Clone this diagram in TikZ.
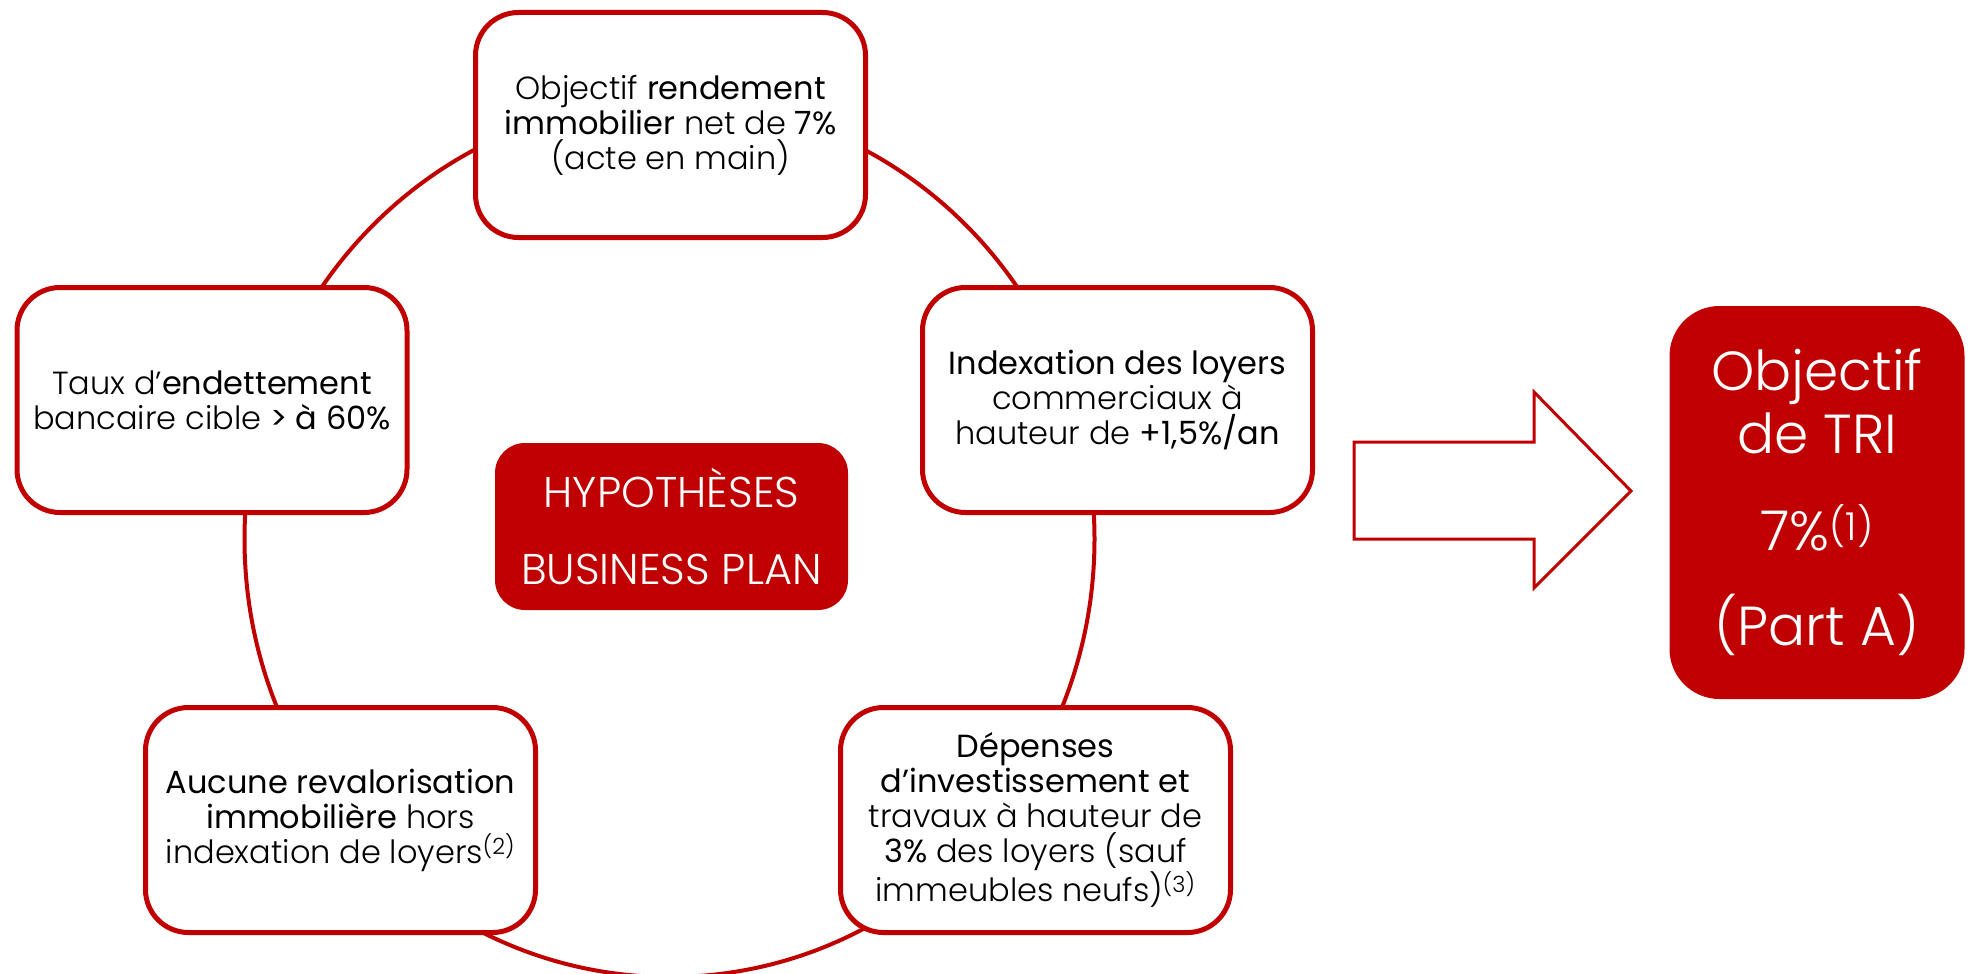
\documentclass[tikz,border=0pt]{standalone}
\usepackage{fontspec}
\setmainfont{Poppins}[UprightFont={* Light},BoldFont={*}]
\definecolor{rouge}{RGB}{192,0,0}
\begin{document}
\begin{tikzpicture}[x=1pt,y=1pt,yscale=-1,xscale=1,
  hyp/.style={draw=rouge,line width=5pt,fill=white,rounded corners=43pt,
    minimum width=390pt,minimum height=225pt,align=center,inner sep=0pt,
    font=\fontsize{32}{35}\selectfont,text=black},
  centre/.style={fill=rouge,rounded corners=30pt,minimum width=353pt,minimum height=167pt,
    align=center,inner sep=0pt,text=white,font=\fontsize{43}{77}\selectfont},
  tri/.style={fill=rouge,rounded corners=50pt,minimum width=295pt,minimum height=393pt,
    align=center,inner sep=0pt,text=white,font=\fontsize{55}{63}\selectfont},
  ring/.style={draw=rouge,line width=4pt},
  fleche/.style={draw=rouge,line width=3pt,fill=white}]
\useasboundingbox (0,0) rectangle (1975,974);

% cycle des hypotheses
\draw[ring] (669.5,539) ellipse [x radius=425, y radius=438];

\node[hyp] (rendement) at (670.5,125) {Objectif \textbf{rendement}\\\textbf{immobilier} net de \textbf{7\%}\\(acte en main)};
\node[hyp] (indexation) at (1117.5,400) {\textbf{Indexation des loyers}\\commerciaux à\\hauteur de \textbf{+1,5\%/an}};
\node[hyp] (taux) at (212,400) {Taux d’\textbf{endettement}\\bancaire cible \textbf{> à 60\%}};
\node[hyp] (revalo) at (340.5,820) {\textbf{Aucune revalorisation}\\\textbf{immobilière} hors\\indexation de loyers\textsuperscript{(2)}};
\node[hyp] (depenses) at (1035.5,820) {\textbf{Dépenses}\\\textbf{d’investissement et}\\travaux à hauteur de\\\textbf{3\%} des loyers (sauf\\immeubles neufs)\textsuperscript{(3)}};

\node[centre] (hypo) at (671.5,526.5) {HYPOTHÈSES\\BUSINESS PLAN};

% fleche vers l'objectif
\draw[fleche] (1354,442) -- (1534,442) -- (1534,392) -- (1631,491) -- (1534,588) -- (1534,539) -- (1354,539) -- cycle;

\node[tri] (tri) at (1817,502.5) {Objectif\\de TRI\\[34pt]7\%\textsuperscript{(1)}\\[32pt](Part A)};

\end{tikzpicture}
\end{document}
